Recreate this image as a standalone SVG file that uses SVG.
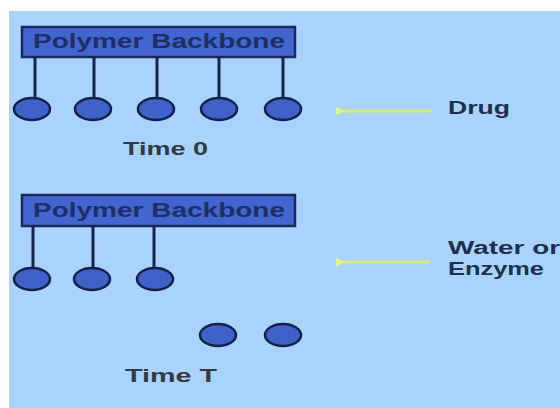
<svg xmlns="http://www.w3.org/2000/svg" width="560" height="408" viewBox="0 0 560 408">
<style>
.bg{fill:#a9d3fb}
.box{fill:#4265cf;stroke:#1b2a5e;stroke-width:2.5}
.stem{stroke:#152448;stroke-width:3}
.bead{fill:#3f62c9;stroke:#14214c;stroke-width:2.5}
.t{font-family:"Liberation Sans",Arial,sans-serif;font-weight:bold;font-size:18px}
.bt{fill:#1e2f66;font-size:20px}
.lbl{fill:#323a48}
.side{fill:#1d3050}
.arr{stroke:#dcef6a;stroke-width:3;stroke-linecap:round;opacity:0.9}
</style>
<defs>
<marker id="ah" viewBox="0 0 10 10" refX="2" refY="5" markerWidth="3" markerHeight="3" orient="auto-start-reverse">
<path d="M0,5 L10,0 L10,10 Z" fill="#e8f88a"/>
</marker>
</defs>
<rect class="bg" x="9" y="11" width="551" height="397"/>
<g id="polymer0">
<rect class="box" x="22" y="27" width="273" height="30"/>
<text class="t bt" x="33" y="48" textLength="252" lengthAdjust="spacingAndGlyphs">Polymer Backbone</text>
<line class="stem" x1="35" y1="57" x2="35" y2="100"/>
<line class="stem" x1="94" y1="57" x2="94" y2="100"/>
<line class="stem" x1="157" y1="57" x2="157" y2="100"/>
<line class="stem" x1="219" y1="57" x2="219" y2="100"/>
<line class="stem" x1="283" y1="57" x2="283" y2="100"/>
<ellipse class="bead" cx="32" cy="109" rx="18" ry="11"/>
<ellipse class="bead" cx="93" cy="109" rx="18" ry="11"/>
<ellipse class="bead" cx="156" cy="109" rx="18" ry="11"/>
<ellipse class="bead" cx="219" cy="109" rx="18" ry="11"/>
<ellipse class="bead" cx="283" cy="109" rx="18" ry="11"/>
</g>
<g id="label-time0">
<text class="t lbl" x="123" y="155" textLength="85" lengthAdjust="spacingAndGlyphs">Time 0</text>
</g>
<g id="polymerT">
<rect class="box" x="22" y="195" width="273" height="31"/>
<text class="t bt" x="33" y="217" textLength="252" lengthAdjust="spacingAndGlyphs">Polymer Backbone</text>
<line class="stem" x1="33" y1="226" x2="33" y2="270"/>
<line class="stem" x1="93" y1="226" x2="93" y2="270"/>
<line class="stem" x1="154" y1="226" x2="154" y2="270"/>
<ellipse class="bead" cx="32" cy="279" rx="18" ry="11"/>
<ellipse class="bead" cx="92" cy="279" rx="18" ry="11"/>
<ellipse class="bead" cx="155" cy="279" rx="18" ry="11"/>
</g>
<g id="released">
<ellipse class="bead" cx="218" cy="335" rx="18" ry="11"/>
<ellipse class="bead" cx="283" cy="335" rx="18" ry="11"/>
</g>
<g id="label-timeT">
<text class="t lbl" x="125" y="382" textLength="92" lengthAdjust="spacingAndGlyphs">Time T</text>
</g>
<g id="connectors">
<line class="arr" x1="430" y1="111" x2="343" y2="111" marker-end="url(#ah)"/>
<line class="arr" x1="428" y1="262" x2="343" y2="262" marker-end="url(#ah)"/>
</g>
<g id="label-drug">
<text class="t side" x="448" y="114" textLength="62" lengthAdjust="spacingAndGlyphs">Drug</text>
</g>
<g id="label-water">
<text class="t side" x="448" y="254" textLength="112" lengthAdjust="spacingAndGlyphs">Water or</text>
<text class="t side" x="448" y="275" textLength="96" lengthAdjust="spacingAndGlyphs">Enzyme</text>
</g>
</svg>
